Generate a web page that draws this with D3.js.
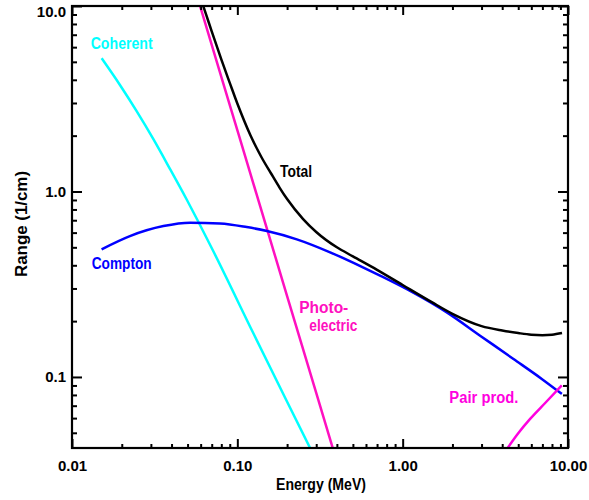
<!DOCTYPE html>
<html><head><meta charset="utf-8">
<script src="https://cdn.jsdelivr.net/npm/d3@7"></script>
<style>body{margin:0;background:#fff}svg{display:block}</style>
</head><body>
<script>
// ---- data ----
const coherentE = [0.0151, 0.0195, 0.0246, 0.0310, 0.0392, 0.0494, 0.0581, 0.0716, 0.125, 0.20, 0.28];
const coherentV = [5.23, 3.75, 2.71, 1.92, 1.32, 0.905, 0.687, 0.476, 0.172, 0.0735, 0.0402];

const photoE = [0.058, 0.08, 0.10, 0.15, 0.20, 0.30, 0.39];
const photoV = [10.8, 4.15, 2.14, 0.642, 0.273, 0.082, 0.0376];

const totalE = [0.057, 0.060, 0.065, 0.070, 0.080, 0.090, 0.100, 0.120, 0.140, 0.160, 0.180, 0.200, 0.250, 0.300, 0.400, 0.500, 0.700, 1.0, 1.5, 2.0, 3.0, 4.0, 5.0, 6.0, 7.0, 8.0, 9.2];
const totalV = [12.6, 11.0, 8.9, 7.3, 5.15, 3.85, 2.98, 2.01, 1.53, 1.25, 1.05, 0.91, 0.71, 0.605, 0.50, 0.447, 0.378, 0.313, 0.253, 0.219, 0.188, 0.178, 0.1725, 0.169, 0.168, 0.169, 0.1725];

const comptonE = [0.0151, 0.0224, 0.0357, 0.0518, 0.0786, 0.114, 0.151, 0.229, 0.364, 0.579, 0.730, 1.16, 1.85, 2.94, 4.68, 6.94, 9.17];
const comptonV = [0.488, 0.575, 0.651, 0.679, 0.673, 0.643, 0.612, 0.552, 0.470, 0.389, 0.352, 0.285, 0.223, 0.167, 0.125, 0.0976, 0.081];

const pairE = [4.2, 5.0, 5.9, 7.3, 9.17];
const pairV = [0.040, 0.0497, 0.0594, 0.0726, 0.090];

const xTicks = [0.01, 0.1, 1, 10];
const xTickLabels = ["0.01", "0.10", "1.00", "10.00"];
const yTicks = [0.1, 1, 10];
const yTickLabels = ["0.1", "1.0", "10.0"];

const seriesNames = ["Coherent", "Total", "Compton", "Photo-", "electric", "Pair prod."];

// ---- layout / style ----
const W = 589, H = 500;
const L = 72, R = 568, T = 6, B = 448;
const FONT = "'Liberation Sans', Arial, sans-serif";
const CYAN = "#00ffff", BLUE = "#0000ff", PINK = "#ff10c0", MAG = "#ff00e0";
const labelLayout = {
  "Coherent":   {E: 0.01297, V: 5.87,  c: CYAN,  w: 62},
  "Total":      {E: 0.1813,  V: 1.204, c: "#000", w: 32},
  "Compton":    {E: 0.01316, V: 0.381, c: BLUE,  w: 60},
  "Photo-":     {E: 0.237,   V: 0.221, c: PINK,  w: 49},
  "electric":   {E: 0.2727,  V: 0.178, c: PINK,  w: 48},
  "Pair prod.": {E: 1.916,   V: 0.0725, c: MAG,  w: 69}
};

const x = d3.scaleLog().domain([0.01, 10]).range([L, R]);
const y = d3.scaleLog().domain([0.0414, 10]).range([B, T]);

const svg = d3.select("body").append("svg").attr("width", W).attr("height", H);
svg.append("rect").attr("width", W).attr("height", H).attr("fill", "#fff");

svg.append("defs").append("clipPath").attr("id", "clip")
  .append("rect").attr("x", L).attr("y", T).attr("width", R - L).attr("height", B - T);

const isMajor = v => Math.abs(Math.log10(v) - Math.round(Math.log10(v))) < 1e-6;
const xMinor = x.ticks().filter(v => !isMajor(v));
const yMinor = y.ticks().filter(v => !isMajor(v));

// ---- curves ----
const line = d3.line().x(d => x(d[0])).y(d => y(d[1])).curve(d3.curveMonotoneX);
const series = [
  {E: coherentE, V: coherentV, color: CYAN},
  {E: photoE, V: photoV, color: PINK},
  {E: comptonE, V: comptonV, color: BLUE},
  {E: totalE, V: totalV, color: "#000"},
  {E: pairE, V: pairV, color: MAG}
];
const g = svg.append("g").attr("clip-path", "url(#clip)");
series.forEach(s => {
  g.append("path").datum(s.E.map((e, i) => [e, s.V[i]]))
    .attr("d", line).attr("fill", "none").attr("stroke", s.color)
    .attr("stroke-width", 2.5).attr("stroke-linejoin", "round");
});

// ---- axes ----
function styleAxis(sel) {
  sel.select(".domain").remove();
  sel.selectAll(".tick line").attr("stroke", "#000").attr("stroke-width", 2);
  sel.selectAll("text").attr("fill", "#000").style("font-family", FONT)
    .style("font-size", "15px").style("font-weight", "bold");
}
svg.append("g").attr("transform", `translate(0,${B})`)
  .call(d3.axisBottom(x).tickValues(xTicks).tickFormat((d, i) => xTickLabels[i]).tickSize(-9).tickPadding(12).tickSizeOuter(0))
  .call(styleAxis);
svg.append("g").attr("transform", `translate(0,${B})`)
  .call(d3.axisBottom(x).tickValues(xMinor).tickFormat("").tickSize(-4).tickSizeOuter(0)).call(styleAxis);
svg.append("g").attr("transform", `translate(0,${T})`)
  .call(d3.axisTop(x).tickValues(xTicks).tickFormat("").tickSize(-9).tickSizeOuter(0)).call(styleAxis);
svg.append("g").attr("transform", `translate(0,${T})`)
  .call(d3.axisTop(x).tickValues(xMinor).tickFormat("").tickSize(-4).tickSizeOuter(0)).call(styleAxis);
const yl = svg.append("g").attr("transform", `translate(${L},0)`)
  .call(d3.axisLeft(y).tickValues(yTicks).tickFormat((d, i) => yTickLabels[i]).tickSize(-10).tickPadding(6).tickSizeOuter(0))
  .call(styleAxis);
yl.selectAll(".tick text").filter(d => d === 10).attr("dy", "0.72em");
svg.append("g").attr("transform", `translate(${L},0)`)
  .call(d3.axisLeft(y).tickValues(yMinor).tickFormat("").tickSize(-5).tickSizeOuter(0)).call(styleAxis);
svg.append("g").attr("transform", `translate(${R},0)`)
  .call(d3.axisRight(y).tickValues(yTicks).tickFormat("").tickSize(-10).tickSizeOuter(0)).call(styleAxis);
svg.append("g").attr("transform", `translate(${R},0)`)
  .call(d3.axisRight(y).tickValues(yMinor).tickFormat("").tickSize(-5).tickSizeOuter(0)).call(styleAxis);

svg.append("rect").attr("x", L).attr("y", T).attr("width", R - L).attr("height", B - T)
  .attr("fill", "none").attr("stroke", "#000").attr("stroke-width", 2.2);

// ---- axis titles ----
svg.append("text").attr("x", 321).attr("y", 490).attr("text-anchor", "middle")
  .attr("textLength", 90).attr("lengthAdjust", "spacingAndGlyphs")
  .style("font-family", FONT).style("font-size", "16px").style("font-weight", "bold").text("Energy (MeV)");
svg.append("text").attr("transform", `translate(27,224) rotate(-90)`).attr("text-anchor", "middle")
  .attr("textLength", 106).attr("lengthAdjust", "spacingAndGlyphs")
  .style("font-family", FONT).style("font-size", "16px").style("font-weight", "bold").text("Range (1/cm)");

// ---- curve labels ----
svg.selectAll("text.lbl").data(seriesNames).join("text").attr("class", "lbl")
  .attr("x", d => x(labelLayout[d].E)).attr("y", d => y(labelLayout[d].V))
  .attr("fill", d => labelLayout[d].c)
  .attr("textLength", d => labelLayout[d].w).attr("lengthAdjust", "spacingAndGlyphs")
  .style("font-family", FONT).style("font-size", "16px").style("font-weight", "bold")
  .text(d => d);
</script>
</body></html>
